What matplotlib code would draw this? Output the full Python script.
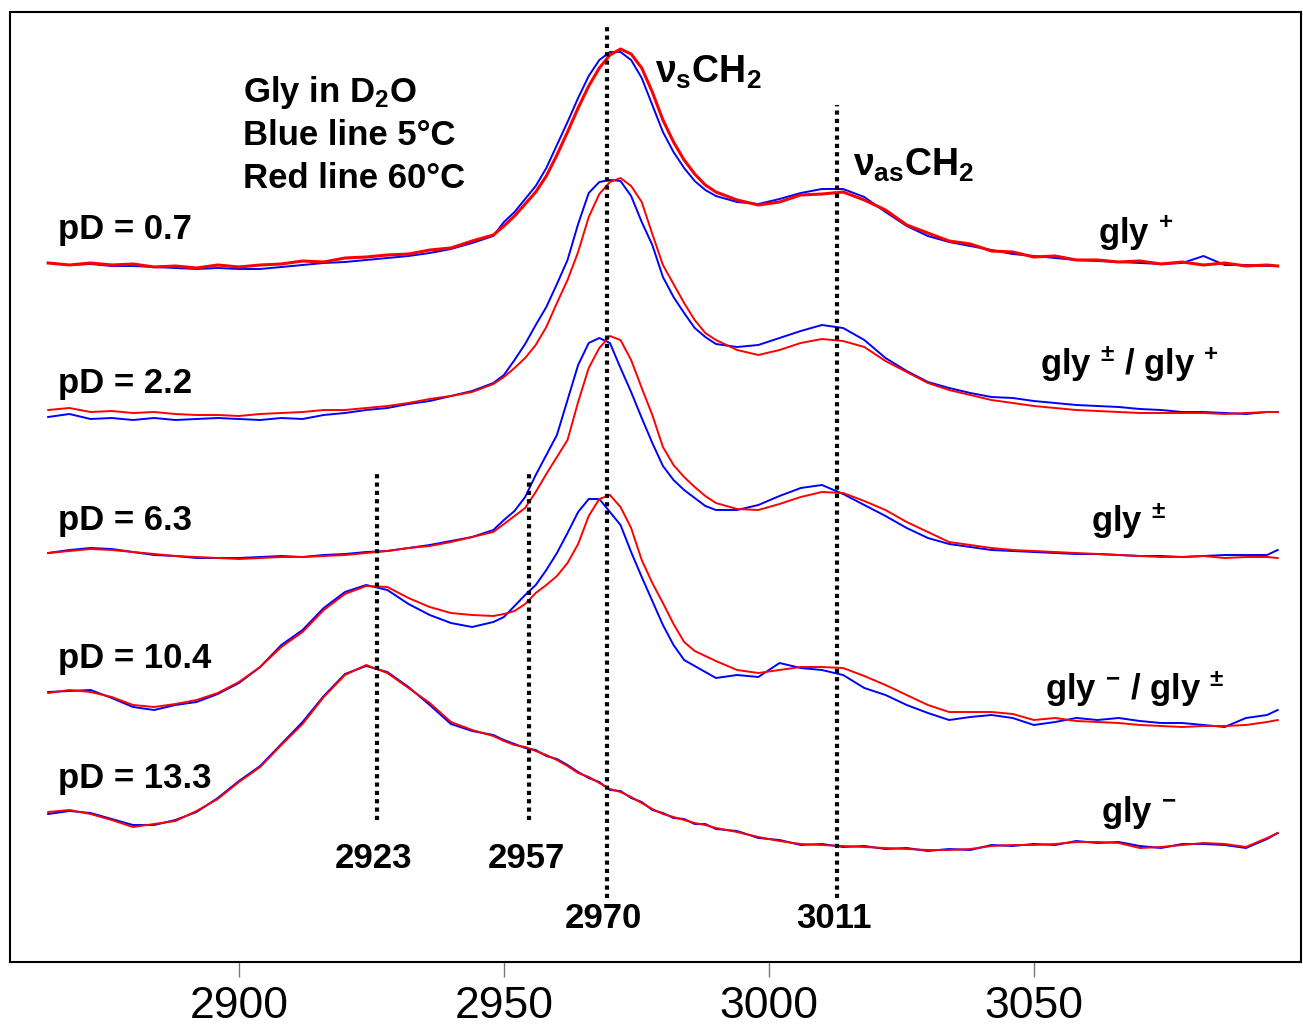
import numpy as np
import matplotlib.pyplot as plt

plt.rcParams['font.family'] = ['Liberation Sans', 'DejaVu Sans']
plt.rcParams['mathtext.fontset'] = 'custom'
plt.rcParams['mathtext.rm'] = 'Liberation Sans:bold'
plt.rcParams['mathtext.it'] = 'Liberation Sans:bold'
plt.rcParams['mathtext.bf'] = 'Liberation Sans:bold'

# wavenumber grid (cm-1), finer across the CH2 stretch peak
wn = ([2864, 2868, 2872, 2876, 2880, 2884, 2888, 2892, 2896, 2900, 2904,
       2908, 2912, 2916, 2920, 2924, 2928, 2932, 2936, 2940, 2944, 2948]
      + [2950, 2952, 2954, 2956, 2958, 2960, 2962, 2964, 2966, 2968, 2970,
         2972, 2974, 2976, 2978, 2980, 2982, 2984, 2986, 2988, 2990]
      + [2994, 2998, 3002, 3006, 3010, 3014, 3018, 3022, 3026, 3030, 3034,
         3038, 3042, 3046, 3050, 3054, 3058, 3062, 3066, 3070, 3074, 3078,
         3082, 3086, 3090, 3094, 3096])

# stacked absorbance traces (arbitrary units, offsets included)
pd07_blue = [699, 697, 698, 696, 696, 695, 694, 693, 694, 693, 693, 695, 697, 699, 700, 702, 704, 706, 709, 713, 719, 726,
             740, 750, 763, 776, 794, 817, 840, 864, 886, 902, 910, 910, 902, 884, 857, 830, 810, 794, 781, 772, 766,
             760, 758, 763, 769, 773, 773, 765, 750, 736, 726, 720, 716, 712, 708, 706, 704, 702, 701, 700, 699, 698, 699, 706, 697, 697, 696, 696]
pd07_red = [699, 697, 699, 697, 698, 695, 696, 694, 697, 695, 697, 698, 701, 700, 704, 705, 707, 708, 712, 714, 721, 727,
            736, 746, 758, 770, 786, 807, 830, 854, 876, 894, 907, 913, 908, 894, 870, 842, 820, 802, 788, 777, 770,
            762, 757, 760, 767, 768, 770, 762, 752, 737, 729, 721, 718, 711, 710, 705, 706, 702, 702, 700, 701, 698, 700, 697, 699, 696, 697, 696]

pd22_blue = [545, 548, 543, 544, 542, 544, 542, 543, 544, 543, 542, 544, 543, 547, 549, 552, 554, 558, 561, 566, 571, 579,
             587, 602, 618, 637, 655, 678, 702, 738, 769, 780, 782, 781, 766, 740, 717, 685, 665, 649, 634, 625, 618,
             615, 617, 624, 631, 637, 634, 622, 604, 591, 580, 574, 569, 565, 564, 561, 559, 557, 556, 555, 553, 552, 550, 550, 549, 548, 550, 550]
pd22_red = [552, 554, 550, 551, 549, 550, 548, 547, 547, 546, 548, 549, 550, 552, 552, 554, 556, 559, 563, 566, 570, 578,
            585, 594, 604, 617, 635, 659, 682, 710, 745, 768, 780, 784, 776, 760, 728, 697, 678, 659, 642, 629, 622,
            612, 607, 612, 619, 623, 621, 615, 601, 590, 579, 572, 567, 562, 559, 556, 554, 552, 551, 550, 549, 549, 549, 549, 548, 549, 550, 550]

pd63_blue = [409, 412, 414, 413, 410, 407, 406, 404, 404, 404, 405, 406, 405, 407, 408, 410, 411, 414, 417, 421, 425, 432,
             442, 451, 465, 487, 507, 527, 562, 597, 619, 624, 619, 594, 570, 544, 519, 496, 482, 472, 464, 456, 452,
             452, 457, 466, 474, 477, 468, 457, 446, 434, 424, 418, 415, 412, 411, 410, 409, 408, 408, 407, 406, 406, 405, 406, 407, 407, 407, 412]
pd63_red = [409, 411, 413, 412, 410, 408, 406, 405, 404, 403, 404, 405, 405, 406, 407, 409, 411, 414, 416, 420, 425, 430,
            438, 446, 454, 470, 488, 505, 522, 560, 594, 614, 626, 622, 602, 574, 547, 515, 497, 485, 475, 466, 459,
            453, 452, 458, 465, 470, 469, 461, 452, 440, 430, 420, 417, 414, 412, 411, 410, 409, 408, 407, 406, 405, 405, 406, 404, 405, 405, 404]

pd104_blue = [270, 271, 272, 264, 255, 252, 257, 260, 268, 279, 295, 317, 332, 354, 370, 377, 372, 358, 347, 339, 335, 340,
              345, 356, 367, 377, 392, 409, 429, 450, 463, 463, 450, 437, 410, 385, 361, 337, 317, 302, 296, 290, 284,
              287, 285, 299, 294, 292, 287, 274, 267, 257, 249, 242, 245, 247, 244, 237, 240, 244, 242, 244, 241, 239, 239, 237, 235, 244, 247, 252]
pd104_red = [269, 272, 270, 265, 257, 255, 258, 262, 269, 280, 295, 315, 330, 352, 368, 376, 375, 364, 355, 349, 347, 346,
             348, 351, 358, 369, 377, 386, 399, 418, 446, 463, 467, 455, 434, 402, 379, 359, 338, 320, 311, 306, 301,
             292, 289, 292, 295, 295, 294, 286, 277, 267, 257, 250, 250, 250, 248, 242, 244, 241, 240, 239, 237, 236, 235, 236, 236, 237, 240, 242]

pd133_blue = [148, 151, 149, 143, 137, 137, 142, 150, 164, 181, 196, 218, 240, 266, 288, 296, 290, 275, 257, 238, 231, 227,
              222, 218, 214, 212, 206, 203, 197, 190, 184, 180, 172, 171, 164, 160, 152, 149, 144, 143, 138, 138, 133,
              131, 124, 122, 117, 118, 115, 116, 113, 114, 111, 113, 112, 117, 116, 118, 117, 121, 119, 120, 116, 114, 118, 118, 117, 114, 123, 129]
pd133_red = [150, 152, 148, 142, 135, 138, 141, 151, 163, 180, 195, 217, 238, 265, 287, 297, 289, 274, 259, 240, 232, 226,
             221, 217, 215, 211, 207, 202, 196, 189, 185, 179, 173, 170, 165, 159, 153, 148, 145, 142, 139, 137, 134,
             130, 125, 121, 118, 117, 116, 115, 114, 113, 112, 112, 113, 116, 117, 117, 118, 120, 120, 119, 114, 115, 117, 119, 118, 115, 124, 129]

blue_traces = [pd07_blue, pd22_blue, pd63_blue, pd104_blue, pd133_blue]
red_traces = [pd07_red, pd22_red, pd63_red, pd104_red, pd133_red]

# reference band positions and their labels
band_pos = [2926.0, 2954.7, 2969.4, 3012.8]
band_lab = ['2923', '2957', '2970', '3011']
band_top = [490, 490, 937, 857]
band_bot = [142, 142, 64, 64]

W, H = 1303, 1029
fig = plt.figure(figsize=(W / 100, H / 100), dpi=100)
ax = fig.add_axes([10 / W, 1 - 962 / H, 1291 / W, 950 / H])

for i, (b, r) in enumerate(zip(blue_traces, red_traces)):
    ax.plot(wn, b, color='#0000ff', lw=1.4)
    ax.plot(wn, r, color='#ff0000', lw=2.2 if i == 0 else 1.4)

for x, t, b in zip(band_pos, band_top, band_bot):
    ax.plot([x, x], [b, t], color='k', lw=3.0, ls=(0, (1, 1)))

ax.set_xlim(2856.8, 3100.4)
ax.set_ylim(0, 950)
ax.set_yticks([])
ax.set_xticks([2900, 2950, 3000, 3050])
ax.tick_params(axis='x', direction='out', length=11, width=1, color='#777777',
               labelsize=32, pad=6)
for s in ax.spines.values():
    s.set_linewidth(1.5)


def ft(px, py, s, size=25, ha='left', **kw):
    fig.text(px / W, 1 - py / H, s, fontsize=size, fontweight='bold',
             ha=ha, va='baseline', **kw)


ft(58, 239, 'pD = 0.7')
ft(58, 393, 'pD = 2.2')
ft(58, 530, 'pD = 6.3')
ft(58, 668, 'pD = 10.4')
ft(58, 788, 'pD = 13.3')

ft(243, 102, r'Gly in D$_2$O')
ft(243, 145, 'Blue line 5\u00b0C')
ft(243, 188, 'Red line 60\u00b0C')

ft(655, 83, r'$\nu_{s}$CH$_2$', size=27)
ft(853, 176, r'$\nu_{as}$CH$_2$', size=27)

ft(1098, 243, r'gly $^{+}$')
ft(1040, 375, r'gly $^{\pm}$ / gly $^{+}$')
ft(1091, 532, r'gly $^{\pm}$')
ft(1045, 700, r'gly $^{-}$ / gly $^{\pm}$')
ft(1101, 822, r'gly $^{-}$')

for x, lab in zip(band_pos, band_lab):
    px = 239 + (x - 2900) * 5.3
    py = 868 if lab in ('2923', '2957') else 928
    ft(px - 3, py, lab, ha='center')

fig.savefig('out.png', dpi=100)
